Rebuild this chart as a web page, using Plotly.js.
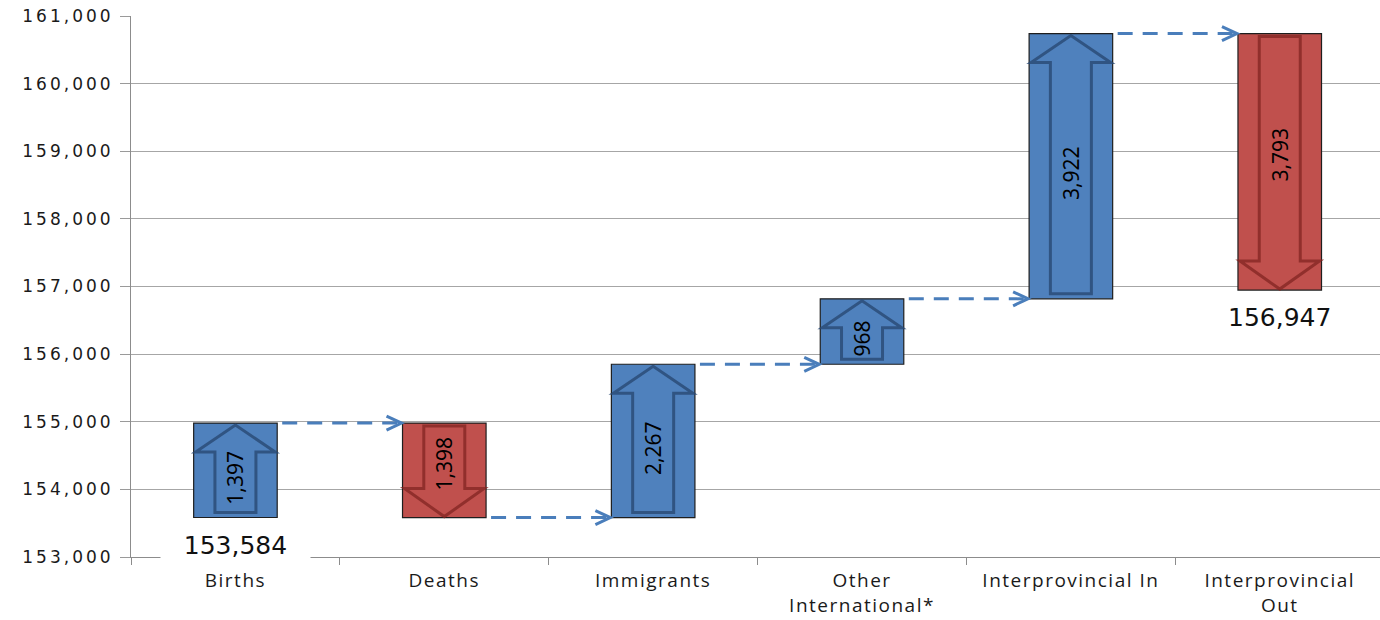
<!DOCTYPE html>
<html><head><meta charset="utf-8">
<script src="https://cdn.plot.ly/plotly-3.0.1.min.js"></script>
<style>
html,body{margin:0;padding:0;background:#fff}
#chart{width:1380px;height:620px}
.ytick text{letter-spacing:3px}
.xtick text{letter-spacing:1.5px}
</style>
</head><body><div id="chart"></div>
<script>
// ---- data ----
const categories = ['Births', 'Deaths', 'Immigrants', 'Other<br>International*', 'Interprovincial In', 'Interprovincial<br>Out'];
const startValue = 153584;
const changes = [1397, -1398, 2267, 968, 3922, -3793];
const endValue = 156947;
const yTickVals = [153000, 154000, 155000, 156000, 157000, 158000, 159000, 160000, 161000];
const yTickText = ['153,000', '154,000', '155,000', '156,000', '157,000', '158,000', '159,000', '160,000', '161,000'];

// ---- derived ----
const fmt = v => Math.abs(v).toLocaleString('en-US');
const bases = [], heights = [], levels = [];
let cur = startValue;
changes.forEach(c => {
  const next = cur + c;
  bases.push(Math.min(cur, next));
  heights.push(Math.abs(c));
  levels.push(next);
  cur = next;
});
const barColors = changes.map(c => c > 0 ? '#4f81bd' : '#c0504d');
const arrowColors = changes.map(c => c > 0 ? 'rgba(40,72,115,0.8)' : 'rgba(130,36,34,0.75)');

const M = {l: 131, r: 0, t: 16, b: 63};
const W = 1380, H = 620;
const yRange = [153000, 161000];
const xRange = [-0.5, 5.48];
const pxY = (yRange[1] - yRange[0]) / (H - M.t - M.b);
const pxX = (xRange[1] - xRange[0]) / (W - M.l - M.r);
const barW = 0.4;

const shapes = [];
const annotations = [];
changes.forEach((c, i) => {
  const bot = bases[i], top = bases[i] + heights[i];
  const headH = 29 * pxY, hw = barW / 2 - 2 * pxX, sw = 20.5 * pxX;
  let p;
  if (c > 0) {
    const tail = bot + 5 * pxY, tip = top - 2 * pxY, hb = top - headH;
    p = `M${i - sw},${tail}L${i - sw},${hb}L${i - hw},${hb}L${i},${tip}L${i + hw},${hb}L${i + sw},${hb}L${i + sw},${tail}Z`;
  } else {
    const tail = top - 3 * pxY, tip = bot + 1 * pxY, hb = bot + headH;
    p = `M${i - sw},${tail}L${i - sw},${hb}L${i - hw},${hb}L${i},${tip}L${i + hw},${hb}L${i + sw},${hb}L${i + sw},${tail}Z`;
  }
  shapes.push({type: 'path', xref: 'x', yref: 'y', path: p, layer: 'above',
    line: {color: arrowColors[i], width: 3}, fillcolor: 'rgba(0,0,0,0)'});
  annotations.push({x: i, y: bot + heights[i] / 2, xref: 'x', yref: 'y', text: fmt(c),
    textangle: -90, showarrow: false, yshift: c > 0 ? -7 : 7,
    font: {family: 'Noto Sans, Open Sans, sans-serif', size: 21, color: '#000'}});
});

// connectors
for (let i = 0; i < changes.length - 1; i++) {
  const lvl = levels[i];
  const x0 = i + barW / 2 + 5 * pxX;
  const x1 = i + 1 - barW / 2;
  shapes.push({type: 'line', xref: 'x', yref: 'y', x0: x0, x1: x1 - 2 * pxX, y0: lvl, y1: lvl, layer: 'above',
    line: {color: '#4a7ebb', width: 3, dash: '15px,10px'}});
  shapes.push({type: 'path', xref: 'x', yref: 'y', xsizemode: 'pixel', ysizemode: 'pixel',
    xanchor: x1 - 1 * pxX, yanchor: lvl, path: 'M-15,7L0,0L-15,-7', layer: 'above',
    line: {color: '#4a7ebb', width: 3}, fillcolor: 'rgba(0,0,0,0)'});
}

// start / end labels
annotations.push({x: 0, y: startValue, xref: 'x', yref: 'y', text: fmt(startValue), showarrow: false,
  yanchor: 'top', yshift: -10, bgcolor: '#ffffff', borderpad: 2, width: 145,
  font: {family: 'DejaVu Sans, sans-serif', size: 25, color: '#111'}});
annotations.push({x: changes.length - 1, y: endValue, xref: 'x', yref: 'y', text: fmt(endValue), showarrow: false,
  yanchor: 'top', yshift: -10, borderpad: 2,
  font: {family: 'DejaVu Sans, sans-serif', size: 25, color: '#111'}});

const trace = {
  type: 'bar', x: categories, y: heights, base: bases, width: barW,
  marker: {color: barColors, line: {color: '#1e1e1e', width: 1.2}},
  hoverinfo: 'skip', textposition: 'none'
};

const layout = {
  width: W, height: H, margin: M,
  paper_bgcolor: '#fff', plot_bgcolor: '#fff',
  showlegend: false,
  xaxis: {type: 'category', range: xRange, tickson: 'boundaries', ticks: 'outside', ticklen: 7,
    tickcolor: '#8c8c8c', tickwidth: 1, showline: true, linecolor: '#8c8c8c', linewidth: 1,
    showgrid: false, zeroline: false, ticklabelstandoff: 6,
    tickfont: {family: 'Open Sans, Noto Sans, sans-serif', size: 19, color: '#1a1a1a'}},
  yaxis: {range: yRange, tickvals: yTickVals, ticktext: yTickText, ticks: 'outside', ticklen: 10,
    tickcolor: '#9a9a9a', showgrid: true, gridcolor: '#a6a6a6', gridwidth: 1,
    showline: true, linecolor: '#8c8c8c', zeroline: false, ticklabelstandoff: 3,
    tickfont: {family: 'DejaVu Sans, sans-serif', size: 17, color: '#1a1a1a'}},
  shapes: shapes,
  annotations: annotations
};

Plotly.newPlot('chart', [trace], layout, {displayModeBar: false, staticPlot: true});
</script>
</body></html>
